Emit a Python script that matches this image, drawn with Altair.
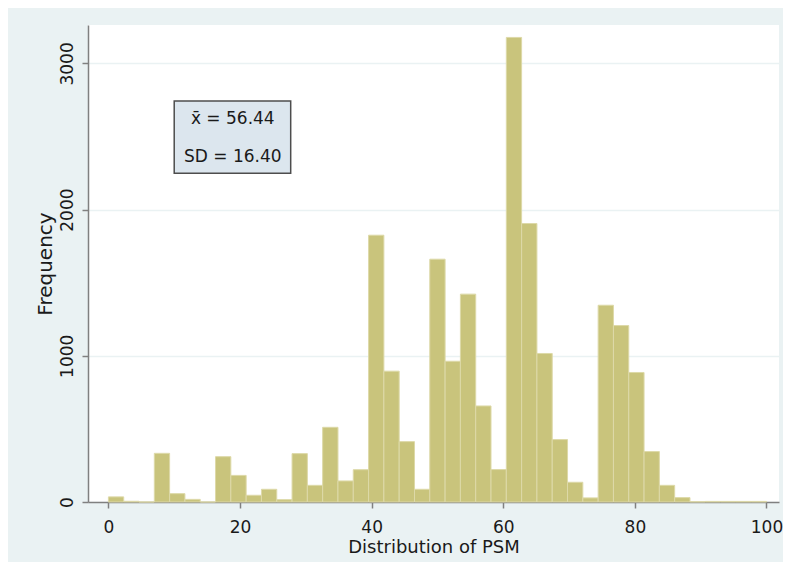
import altair as alt
import pandas as pd

# Histogram: 43 equal-width bins spanning 0..100
bin_count = 43
bin_width = 100 / bin_count
counts = [35, 5, 0, 333, 57, 18, 0, 310, 182, 46,
          87, 16, 331, 114, 511, 144, 221, 1825, 895, 413,
          87, 1661, 963, 1422, 657, 222, 3178, 1905, 1016, 427,
          135, 28, 1346, 1207, 886, 345, 114, 30, 2, 4,
          4, 4, 4]

x_ticks = [0, 20, 40, 60, 80, 100]
y_ticks = [0, 1000, 2000, 3000]

stat_lines = ["x\u0304 = 56.44", "SD = 16.40"]
stat_y = [2618, 2358]
stat_x = 18.9
box_x = [10.0, 27.7]
box_y = [2249, 2743]

FONT = "DejaVu Sans"
TXT = "#1a1a1a"

df = pd.DataFrame({
    "lo": [i * bin_width for i in range(bin_count)],
    "hi": [(i + 1) * bin_width for i in range(bin_count)],
    "count": counts,
    "base": [0] * bin_count,
})

xscale = alt.Scale(domain=[-3.1, 101.9], nice=False, zero=False)
yscale = alt.Scale(domain=[0, 3263], nice=False)

bars = alt.Chart(df).mark_bar(
    color="#C9C47C", stroke="#DDD9A8", strokeWidth=1
).encode(
    x=alt.X("lo:Q", scale=xscale,
            axis=alt.Axis(values=x_ticks, title="Distribution of PSM", grid=False,
                          format="d", labelFont=FONT, labelFontSize=17, labelColor=TXT,
                          labelBaseline="alphabetic", labelPadding=24,
                          titleFont=FONT, titleFontSize=18, titleFontWeight="normal",
                          titleColor=TXT, titleBaseline="alphabetic", titleY=50,
                          tickSize=6, tickColor="#808080", tickWidth=1.5,
                          domainColor="#808080", domainWidth=1.5)),
    x2="hi:Q",
    y=alt.Y("count:Q", scale=yscale,
            axis=alt.Axis(values=y_ticks, title="Frequency", grid=True,
                          gridColor="#EAF2F3", gridWidth=1.5, format="d",
                          labelAngle=270, labelAlign="center", labelBaseline="alphabetic",
                          labelPadding=10, labelFont=FONT, labelFontSize=17, labelColor=TXT,
                          titleFont=FONT, titleFontSize=20, titleFontWeight="normal",
                          titleColor=TXT, titleBaseline="alphabetic", titleX=-37,
                          tickSize=6, tickColor="#808080", tickWidth=1.5,
                          domainColor="#808080", domainWidth=1.5)),
    y2="base:Q",
)

box_df = pd.DataFrame({"x1": [box_x[0]], "x2": [box_x[1]], "y1": [box_y[0]], "y2": [box_y[1]]})
box = alt.Chart(box_df).mark_rect(
    fill="#DCE6EE", stroke="#4d4d4d", strokeWidth=1.5
).encode(
    x=alt.X("x1:Q", scale=xscale), x2="x2:Q",
    y=alt.Y("y1:Q", scale=yscale), y2="y2:Q",
)

txt_df = pd.DataFrame({"label": stat_lines, "y": stat_y, "x": [stat_x] * len(stat_lines)})
texts = alt.Chart(txt_df).mark_text(
    font=FONT, fontSize=17, color=TXT, align="center", baseline="middle"
).encode(
    x=alt.X("x:Q", scale=xscale),
    y=alt.Y("y:Q", scale=yscale),
    text="label:N",
)

chart = alt.layer(bars, box, texts).properties(
    width=691, height=477,
    padding={"left": 80, "top": 17, "right": 4, "bottom": 60},
    autosize=alt.AutoSizeParams(type="none"),
    background="#EAF2F3",
).configure_view(fill="white", stroke=None)

chart.save("out.html", embed_options={"renderer": "svg", "actions": False})
